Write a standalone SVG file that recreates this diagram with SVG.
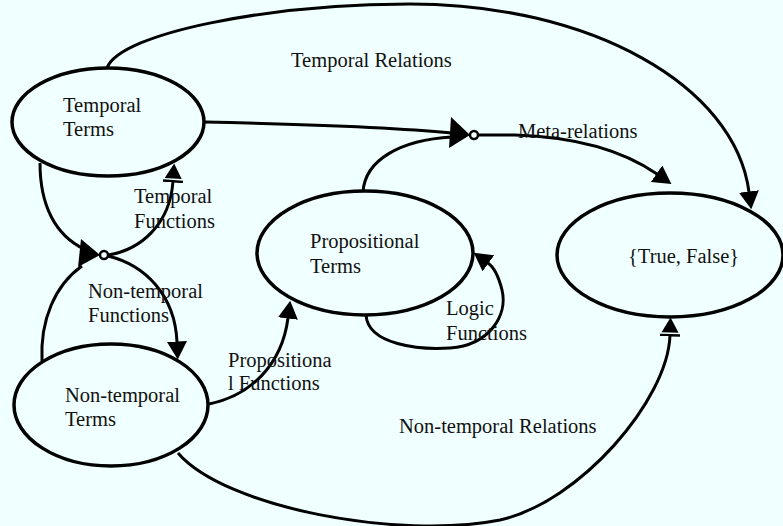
<svg xmlns="http://www.w3.org/2000/svg" width="783" height="526" viewBox="0 0 783 526">
<style>
.bg{fill:#F0FFFF}
.node{fill:none;stroke:#000;stroke-width:3.5}
.t{font-family:"Liberation Serif","Times New Roman",serif;font-size:20.5px;fill:#111}
.c{fill:none;stroke:#000;stroke-width:3}
.j{fill:#000}
.dot{fill:#F0FFFF;stroke:#000;stroke-width:2.5}
</style>
<defs>
<marker id="arr" markerUnits="userSpaceOnUse" viewBox="0 0 18 20" markerWidth="18" markerHeight="20" refX="0.5" refY="10" orient="auto">
<path d="M0,0 L18,10 L0,20 z" fill="#000"/>
</marker>
<marker id="arrbar" markerUnits="userSpaceOnUse" viewBox="0 0 20 22" markerWidth="20" markerHeight="22" refX="1.5" refY="11" orient="auto">
<rect x="0" y="1" width="2.5" height="20" fill="#000"/>
<path d="M4,2.5 L19,11 L4,19.5 z" fill="#000"/>
</marker>
</defs>
<rect class="bg" x="0" y="0" width="783" height="526"/>

<g id="connectors">
<path class="c" d="M107,68 C120,33 270,4 410,4 C590,4 735,85 749,192" marker-end="url(#arr)"/>
<path class="c" d="M204,122 C300,124 400,128 452,133"/>
<path class="c" d="M363,192 C365,160 400,140 452,137"/>
<path class="c" d="M477,135 L515,135 C580,137 625,152 657,174" marker-end="url(#arr)"/>
<path class="c" d="M40,163 C40,205 55,235 84,249"/>
<path class="c" d="M42,361 C40,320 55,285 82,266"/>
<path class="c" d="M108,255 C140,250 170,225 173,181" marker-end="url(#arrbar)"/>
<path class="c" d="M108,256 C145,265 175,295 177,342" marker-end="url(#arr)"/>
<path class="c" d="M209,404 C250,396 282,365 288,318" marker-end="url(#arr)"/>
<path class="c" d="M366,315 C368,345 420,350 450,348 C490,345 508,315 502,290 C499,278 495,268 488,263" marker-end="url(#arr)"/>
<path class="c" d="M178,453 C225,508 400,540 500,520 C580,502 668,400 670,335" marker-end="url(#arrbar)"/>
<polygon class="j" points="451,117 470,135 449,148"/>
<circle class="dot" cx="474" cy="135" r="4"/>
<polygon class="j" points="81,239 100,255 78,267"/>
<circle class="dot" cx="104" cy="255" r="4"/>
</g>

<g id="temporal-terms">
<ellipse class="node" cx="108" cy="122" rx="96" ry="54"/>
<text class="t" x="63" y="112">Temporal</text>
<text class="t" x="63" y="136">Terms</text>
</g>

<g id="non-temporal-terms">
<ellipse class="node" cx="111" cy="405" rx="97" ry="61"/>
<text class="t" x="65" y="402">Non-temporal</text>
<text class="t" x="65" y="426">Terms</text>
</g>

<g id="propositional-terms">
<ellipse class="node" cx="365" cy="253" rx="108" ry="62"/>
<text class="t" x="310" y="248">Propositional</text>
<text class="t" x="310" y="273">Terms</text>
</g>

<g id="true-false">
<ellipse class="node" cx="670" cy="255" rx="113" ry="62"/>
<text class="t" x="628" y="263">{True, False}</text>
</g>

<g id="labels">
<text class="t" x="291" y="67">Temporal Relations</text>
<text class="t" x="518" y="138">Meta-relations</text>
<text class="t" x="134" y="203">Temporal</text>
<text class="t" x="134" y="228">Functions</text>
<text class="t" x="88" y="298">Non-temporal</text>
<text class="t" x="88" y="322">Functions</text>
<text class="t" x="228" y="367">Propositiona</text>
<text class="t" x="228" y="390">l Functions</text>
<text class="t" x="446" y="315">Logic</text>
<text class="t" x="446" y="340">Functions</text>
<text class="t" x="399" y="433">Non-temporal Relations</text>
</g>
</svg>
